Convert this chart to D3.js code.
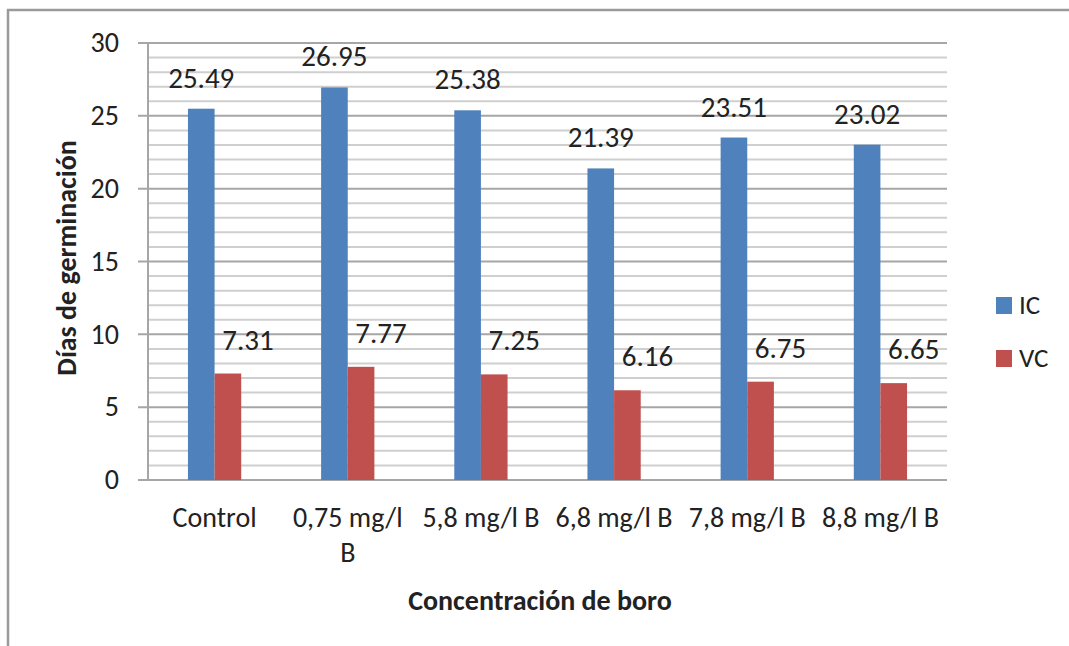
<!DOCTYPE html>
<html>
<head>
<meta charset="utf-8">
<script src="https://cdn.jsdelivr.net/npm/d3@7"></script>
<style>
  body { margin: 0; background: #fff; }
  text { font-family: Carlito, Lato, sans-serif; fill: #222; }
</style>
</head>
<body>
<script>
// chart data
var categories = ["Control", "0,75 mg/l\nB", "5,8 mg/l B", "6,8 mg/l B", "7,8 mg/l B", "8,8 mg/l B"];
var seriesNames = ["IC", "VC"];
var icValues = [25.49, 26.95, 25.38, 21.39, 23.51, 23.02];
var vcValues = [7.31, 7.77, 7.25, 6.16, 6.75, 6.65];
var yTicks = [0, 5, 10, 15, 20, 25, 30];

var colors = ["#4F81BD", "#C0504D"];
var width = 1069, height = 646;
var margin = {left: 148, right: 122, top: 43, bottom: 166};

var svg = d3.select("body").append("svg")
  .attr("width", width)
  .attr("height", height);

// outer chart border (only top/left visible in the crop)
svg.append("rect")
  .attr("x", 8).attr("y", 10)
  .attr("width", 1100).attr("height", 700)
  .attr("fill", "none")
  .attr("stroke", "#9a9a9a")
  .attr("stroke-width", 2.5);

var x0 = d3.scaleBand()
  .domain(categories)
  .range([margin.left, width - margin.right])
  .paddingInner(0)
  .paddingOuter(0);

// bar pair is ~40% of the band (gap width 300%)
var pairW = x0.bandwidth() * 0.4;
var x1 = d3.scaleBand()
  .domain(seriesNames)
  .range([(x0.bandwidth() - pairW) / 2, (x0.bandwidth() + pairW) / 2]);

var y = d3.scaleLinear()
  .domain([0, 30])
  .range([height - margin.bottom, margin.top]);

// minor gridlines every 1
var minor = d3.range(1, 30).filter(function(v) { return v % 5 !== 0; });
svg.append("g").selectAll("line")
  .data(minor)
  .enter().append("line")
  .attr("x1", margin.left).attr("x2", width - margin.right)
  .attr("y1", function(d) { return y(d); })
  .attr("y2", function(d) { return y(d); })
  .attr("stroke", "#cfcfcf")
  .attr("stroke-width", 2);

// major gridlines + tick marks
svg.append("g").selectAll("line")
  .data(yTicks)
  .enter().append("line")
  .attr("x1", margin.left - 10).attr("x2", width - margin.right)
  .attr("y1", function(d) { return y(d); })
  .attr("y2", function(d) { return y(d); })
  .attr("stroke", "#a6a6a6")
  .attr("stroke-width", 2);

// y axis line
svg.append("line")
  .attr("x1", margin.left).attr("x2", margin.left)
  .attr("y1", y(0)).attr("y2", y(30))
  .attr("stroke", "#a6a6a6")
  .attr("stroke-width", 2);

// y tick labels
svg.append("g").selectAll("text")
  .data(yTicks)
  .enter().append("text")
  .attr("x", 119)
  .attr("y", function(d) { return y(d); })
  .attr("dy", "0.33em")
  .attr("text-anchor", "end")
  .style("font-size", "28px")
  .text(function(d) { return d; });

// bars
var rows = categories.map(function(c, i) {
  return {cat: c, vals: [icValues[i], vcValues[i]]};
});

var groups = svg.selectAll(".grp")
  .data(rows)
  .enter().append("g")
  .attr("class", "grp")
  .attr("transform", function(d) { return "translate(" + x0(d.cat) + ",0)"; });

groups.selectAll("rect")
  .data(function(d) { return d.vals.map(function(v, j) { return {s: seriesNames[j], v: v, j: j}; }); })
  .enter().append("rect")
  .attr("x", function(d) { return x1(d.s); })
  .attr("width", x1.bandwidth())
  .attr("y", function(d) { return y(d.v); })
  .attr("height", function(d) { return y(0) - y(d.v); })
  .attr("fill", function(d) { return colors[d.j]; });

// data labels (VC labels were nudged right in the original)
groups.selectAll(".lbl")
  .data(function(d) { return d.vals.map(function(v, j) { return {s: seriesNames[j], v: v, j: j}; }); })
  .enter().append("text")
  .attr("class", "lbl")
  .attr("x", function(d) { return x1(d.s) + x1.bandwidth() / 2 + (d.j === 1 ? 20 : 0); })
  .attr("y", function(d) { return y(d.v) - (d.j === 1 ? 24 : 21); })
  .attr("text-anchor", "middle")
  .style("font-size", "29px")
  .text(function(d) { return d.v.toFixed(2); });

// category labels (with line breaks)
var catLabels = svg.append("g").selectAll("text")
  .data(categories)
  .enter().append("text")
  .attr("text-anchor", "middle")
  .attr("x", function(d) { return x0(d) + x0.bandwidth() / 2; })
  .attr("y", 527)
  .style("font-size", "28px");
catLabels.selectAll("tspan")
  .data(function(d) { return d.split("\n"); })
  .enter().append("tspan")
  .attr("x", function() { var p = this.parentNode; return p.getAttribute("x"); })
  .attr("dy", function(d, i) { return i === 0 ? 0 : 35; })
  .text(function(d) { return d; });

// axis titles
svg.append("text")
  .attr("x", 540).attr("y", 610)
  .attr("text-anchor", "middle")
  .style("font-size", "28px")
  .style("font-weight", "bold")
  .text("Concentración de boro");

svg.append("text")
  .attr("transform", "translate(76,258) rotate(-90)")
  .attr("text-anchor", "middle")
  .style("font-size", "28px")
  .style("font-weight", "bold")
  .text("Días de germinación");

// legend
var legend = svg.selectAll(".legend")
  .data(seriesNames)
  .enter().append("g")
  .attr("class", "legend")
  .attr("transform", function(d, i) { return "translate(996," + (297 + i * 53) + ")"; });
legend.append("rect")
  .attr("width", 16).attr("height", 17)
  .attr("fill", function(d, i) { return colors[i]; });
legend.append("text")
  .attr("x", 23).attr("y", 8.5)
  .attr("dy", "0.33em")
  .style("font-size", "27px")
  .text(function(d) { return d; });
</script>
</body>
</html>
